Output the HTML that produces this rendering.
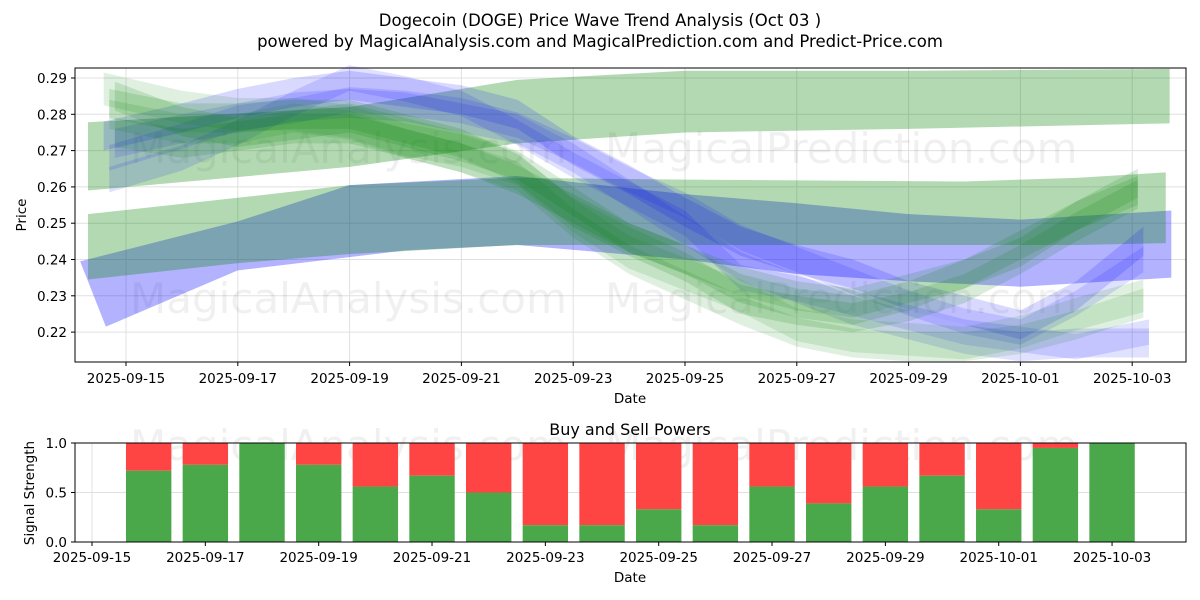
<!DOCTYPE html>
<html><head><meta charset="utf-8"><style>
html,body{margin:0;padding:0;background:#fff;}
svg{display:block;font-family:"DejaVu Sans","Liberation Sans",sans-serif;}
</style></head><body>
<svg id="c" width="1200" height="600" viewBox="0 0 1200 600"></svg>
<script>
// ---- data ----
const tickDays = [0,2,4,6,8,10,12,14,16,18];
const tickLabels = ["2025-09-15","2025-09-17","2025-09-19","2025-09-21","2025-09-23","2025-09-25","2025-09-27","2025-09-29","2025-10-01","2025-10-03"];
const priceTicks = [0.22,0.23,0.24,0.25,0.26,0.27,0.28,0.29];
const bandAdays = [-0.68,4,7,10,14,18.67];
const bandAtop = [0.2778,0.282,0.2895,0.292,0.292,0.2925];
const bandAbot = [0.259,0.2655,0.272,0.275,0.276,0.2775];
const bandBdays = [-0.68,2,4,7,10,15,17,18.6];
const bandBtop = [0.2525,0.257,0.2605,0.2625,0.262,0.2615,0.2625,0.264];
const bandBbot = [0.2345,0.239,0.2415,0.244,0.244,0.244,0.244,0.2445];
const bandCdays = [-0.82,2,4,7,10,12,14,16,18.7];
const bandCtop = [0.2395,0.2505,0.2605,0.263,0.258,0.2555,0.2525,0.251,0.2535];
const bandCdays2 = [-0.36,2,5,7,10,12,14,16,18.7];
const bandCbot = [0.2215,0.237,0.2425,0.244,0.240,0.236,0.234,0.2325,0.235];
const waveG1 = [0.283,0.279,0.279,0.280,0.280,0.276,0.272,0.265,0.253,0.245,0.238,0.229,0.226,0.224,0.227,0.232,0.240,0.249,0.258];
const waveG2 = [0.287,0.282,0.280,0.280,0.278,0.273,0.270,0.265,0.252,0.242,0.236,0.230,0.222,0.219,0.218,0.217,0.220,0.225,0.230];
const waveG3 = [0.285,0.278,0.275,0.277,0.279,0.275,0.271,0.266,0.256,0.246,0.240,0.232,0.228,0.226,0.230,0.236,0.242,0.252,0.261];
const waveG4 = [0.280,0.276,0.276,0.279,0.277,0.272,0.268,0.263,0.250,0.240,0.233,0.226,0.220,0.217,0.216,0.216,0.218,0.222,0.228];
const waveG5 = [0.275,0.272,0.274,0.276,0.276,0.272,0.268,0.262,0.254,0.246,0.240,0.234,0.230,0.228,0.232,0.236,0.244,0.252,0.259];
const waveB1 = [0.274,0.279,0.283,0.286,0.288,0.286,0.284,0.280,0.270,0.262,0.253,0.245,0.240,0.236,0.230,0.226,0.222,0.230,0.245];
const waveB2 = [0.262,0.268,0.275,0.283,0.290,0.287,0.283,0.275,0.266,0.258,0.250,0.235,0.232,0.228,0.224,0.220,0.218,0.216,0.220];
const waveB3 = [0.272,0.276,0.279,0.282,0.283,0.282,0.279,0.276,0.268,0.258,0.248,0.238,0.232,0.226,0.222,0.218,0.216,0.217,0.217];
const waveB4 = [0.268,0.274,0.279,0.281,0.284,0.283,0.281,0.277,0.270,0.262,0.255,0.246,0.240,0.234,0.228,0.223,0.220,0.228,0.240];
const barDays = [1,2,3,4,5,6,7,8,9,10,11,12,13,14,15,16,17,18];
const buyPower = [0.72,0.78,1.0,0.78,0.56,0.67,0.5,0.17,0.17,0.33,0.17,0.56,0.39,0.56,0.67,0.33,0.95,1.0];
const sigTicks = [0,0.5,1.0];
const sigLabels = ["0.0","0.5","1.0"];

const NS="http://www.w3.org/2000/svg";
const svg=document.getElementById('c');
function mk(t,a,p){const e=document.createElementNS(NS,t);for(const k in a)e.setAttribute(k,a[k]);(p||svg).appendChild(e);return e;}
const X=d=>126+55.9*d, Y=v=>78+(0.29-v)*3630;
const XB=d=>92+56.67*d, YB=v=>542-99*v;
const TF=13.5;

let t=mk('text',{x:600,y:26,'text-anchor':'middle','font-size':16.5,fill:'#000'});t.textContent="Dogecoin (DOGE) Price Wave Trend Analysis (Oct 03 )";


t=mk('text',{x:600,y:47,'text-anchor':'middle','font-size':16.5,fill:'#000'});t.textContent="powered by MagicalAnalysis.com and MagicalPrediction.com and Predict-Price.com";



const gTop=mk('g',{});


tickDays.forEach((d,i)=>{
  mk('line',{x1:X(d),x2:X(d),y1:68,y2:362,stroke:'#e0e0e0','stroke-width':1},gTop);
  mk('line',{x1:X(d),x2:X(d),y1:362,y2:366,stroke:'#000'});
  const l=mk('text',{x:X(d),y:383,'text-anchor':'middle','font-size':TF});l.textContent=tickLabels[i];
  
  
});
priceTicks.forEach(v=>{
  mk('line',{x1:75,x2:1186,y1:Y(v),y2:Y(v),stroke:'#e0e0e0'},gTop);
  mk('line',{x1:71,x2:75,y1:Y(v),y2:Y(v),stroke:'#000'});
  const l=mk('text',{x:67,y:Y(v)+5,'text-anchor':'end','font-size':TF});l.textContent=v.toFixed(2);
  
  
});

[[130,163,'MagicalAnalysis.com'],[605,163,'MagicalPrediction.com'],[130,313,'MagicalAnalysis.com'],[605,313,'MagicalPrediction.com'],[130,460,'MagicalAnalysis.com'],[605,460,'MagicalPrediction.com']].forEach(w=>{
  const e=mk('text',{x:w[0],y:w[1],'font-size':42,fill:'#000','fill-opacity':0.06});e.textContent=w[2];
  
  
});

function band(daysT,top,daysB,bot,color,op,name){
  let pts=daysT.map((d,i)=>X(d)+','+Y(top[i]));
  for(let i=daysB.length-1;i>=0;i--)pts.push(X(daysB[i])+','+Y(bot[i]));
  const p=mk('polygon',{points:pts.join(' '),fill:color,'fill-opacity':op});
  
  
}
function wave(vals,half,color,op,name,startOff,endOff){
  const days=vals.map((v,i)=>i);days[0]=startOff;days[days.length-1]=18+endOff;
  band(days,vals.map(v=>v+half),days,vals.map(v=>v-half),color,op,name);
}
const G='#008000',B='#0000ff';
band(bandAdays,bandAtop,bandAdays,bandAbot,G,0.3,'upper-green-band');
band(bandCdays,bandCtop,bandCdays2,bandCbot,B,0.3,'blue-band');
band(bandBdays,bandBtop,bandBdays,bandBbot,G,0.3,'lower-green-band');
wave(waveB2,0.0035,B,0.12,'wave-blue-2',-0.3,0.3);
wave(waveB1,0.004,B,0.15,'wave-blue-1',-0.4,0.2);
wave(waveB3,0.004,B,0.12,'wave-blue-3',-0.2,0.3);
wave(waveB4,0.0035,B,0.12,'wave-blue-4',-0.3,0.2);
wave(waveG1,0.004,G,0.15,'wave-green-1',-0.3,0.1);
wave(waveG2,0.0045,G,0.12,'wave-green-2',-0.4,0.2);
wave(waveG3,0.004,G,0.15,'wave-green-3',-0.2,0.1);
wave(waveG4,0.004,G,0.12,'wave-green-4',-0.3,0.2);
wave(waveG5,0.004,G,0.15,'wave-green-5',-0.2,0.1);

mk('rect',{x:75,y:68,width:1111,height:294,fill:'none',stroke:'#000','stroke-width':1});
t=mk('text',{x:630,y:403,'text-anchor':'middle','font-size':TF});t.textContent="Date";


t=mk('text',{x:0,y:0,'text-anchor':'middle','font-size':TF,transform:'translate(26,215) rotate(-90)'});t.textContent="Price";



t=mk('text',{x:630,y:435,'text-anchor':'middle','font-size':16});t.textContent="Buy and Sell Powers";


sigTicks.forEach((v,i)=>{
  mk('line',{x1:75,x2:1186,y1:YB(v),y2:YB(v),stroke:'#e0e0e0'});
  mk('line',{x1:71,x2:75,y1:YB(v),y2:YB(v),stroke:'#000'});
  const l=mk('text',{x:67,y:YB(v)+5,'text-anchor':'end','font-size':TF});l.textContent=sigLabels[i];
  
  
});
tickDays.forEach((d,i)=>{
  mk('line',{x1:XB(d),x2:XB(d),y1:443,y2:542,stroke:'#e0e0e0'});
  mk('line',{x1:XB(d),x2:XB(d),y1:542,y2:546,stroke:'#000'});
  const l=mk('text',{x:XB(d),y:562,'text-anchor':'middle','font-size':TF});l.textContent=tickLabels[i];
  
  
});
barDays.forEach((d,i)=>{
  const b=buyPower[i],x=XB(d)-22.7;
  const r=mk('rect',{x:x,y:YB(1),width:45.4,height:YB(b)-YB(1),fill:'#ff4444'});
  
  
  const g=mk('rect',{x:x,y:YB(b),width:45.4,height:YB(0)-YB(b),fill:'#4aa84a'});
  
  
});
mk('rect',{x:75,y:443,width:1111,height:99,fill:'none',stroke:'#000'});
t=mk('text',{x:630,y:582,'text-anchor':'middle','font-size':TF});t.textContent="Date";


t=mk('text',{x:0,y:0,'text-anchor':'middle','font-size':TF,transform:'translate(34,493) rotate(-90)'});t.textContent="Signal Strength";


</script>
</body></html>
